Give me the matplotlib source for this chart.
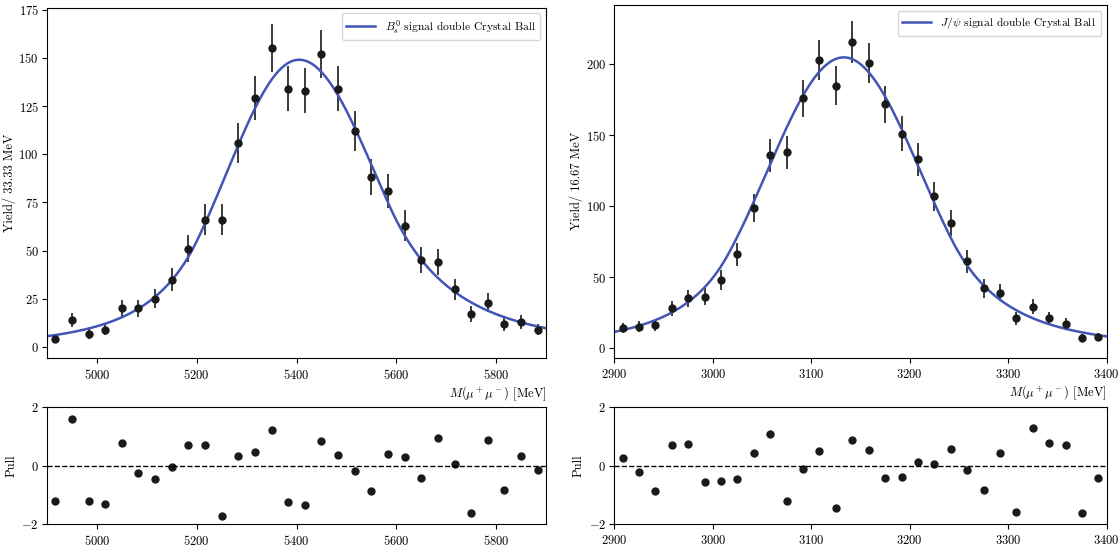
import matplotlib
matplotlib.use("Agg")
import matplotlib.pyplot as plt
import numpy as np

plt.rcParams["font.family"] = "serif"
plt.rcParams["font.serif"] = ["cmr10", "DejaVu Serif"]
plt.rcParams["mathtext.fontset"] = "cm"
plt.rcParams["axes.formatter.use_mathtext"] = True
plt.rcParams["font.size"] = 9
plt.rcParams["ytick.major.pad"] = 2.5

# B_s^0 panel
bs_centers = 4900 + 100 / 3 * (np.arange(30) + 0.5)
bs_counts = [4, 14, 7, 9, 20, 20, 25, 35, 51, 66, 66, 106, 129, 155, 134,
             133, 152, 134, 112, 88, 81, 63, 45, 44, 30, 17, 23, 12, 13, 9]
bs_pulls = [-1.2, 1.6, -1.2, -1.3, 0.8, -0.25, -0.45, -0.02, 0.7, 0.7,
            -1.7, 0.35, 0.48, 1.22, -1.25, -1.32, 0.85, 0.38, -0.18, -0.85,
            0.42, 0.3, -0.42, 0.97, 0.05, -1.6, 0.9, -0.82, 0.33, -0.15]
bs_fit = dict(mu=5405, sL=145, sR=152, aL=1.4, nL=5.0, aR=1.2, nR=5.0, norm=149)

# J/psi panel
jp_centers = 2900 + 50 / 3 * (np.arange(30) + 0.5)
jp_counts = [14, 15, 16, 28, 35, 36, 48, 66, 99, 136, 138, 176, 203, 185, 216,
             201, 172, 151, 133, 107, 88, 61, 42, 39, 21, 29, 21, 17, 7, 8]
jp_pulls = [0.27, -0.2, -0.85, 0.72, 0.75, -0.55, -0.53, -0.43, 0.43, 1.1,
            -1.2, -0.1, 0.52, -1.45, 0.87, 0.53, -0.4, -0.38, 0.15, 0.07,
            0.58, -0.15, -0.82, 0.45, -1.57, 1.28, 0.77, 0.73, -1.62, -0.4]
jp_fit = dict(mu=3133, sL=78, sR=78, aL=1.5, nL=4.0, aR=1.4, nR=5.0, norm=205)

blue = "#4254b5"


def dcb(x, mu, sL, sR, aL, nL, aR, nR, norm):
    t = np.where(x < mu, (x - mu) / sL, (x - mu) / sR)
    y = np.exp(-0.5 * t ** 2)
    AL = (nL / aL) ** nL * np.exp(-0.5 * aL ** 2)
    BL = nL / aL - aL
    AR = (nR / aR) ** nR * np.exp(-0.5 * aR ** 2)
    BR = nR / aR - aR
    left = t < -aL
    right = t > aR
    y[left] = AL * (BL - t[left]) ** (-nL)
    y[right] = AR * (BR + t[right]) ** (-nR)
    return norm * y


fig = plt.figure(figsize=(11.19, 5.48), dpi=100)

panels = [
    (0.042, 0.446, 0.639, bs_centers, bs_counts, bs_pulls, bs_fit,
     (4900, 5900), (-5.6, 176), [5000, 5200, 5400, 5600, 5800],
     "Yield/ 33.33 MeV", r"$B_s^0$ signal double Crystal Ball"),
    (0.549, 0.44, 0.644, jp_centers, jp_counts, jp_pulls, jp_fit,
     (2900, 3400), (-7, 242), [2900, 3000, 3100, 3200, 3300, 3400],
     "Yield/ 16.67 MeV", r"$J/\psi$ signal double Crystal Ball"),
]

for left, w, h, xc, counts, pulls, fit, xlim, ylim, xt, ylab, leg in panels:
    ax = fig.add_axes([left, 0.347, w, h])
    counts = np.array(counts)
    ax.errorbar(xc, counts, yerr=np.sqrt(counts), fmt="o", color="#1a1a1a",
                ms=5, elinewidth=1.2, capsize=0)
    xs = np.linspace(xlim[0], xlim[1], 500)
    ax.plot(xs, dcb(xs, **fit), color=blue, lw=1.8, label=leg)
    ax.set_xlim(*xlim)
    ax.set_ylim(*ylim)
    ax.set_xticks(xt)
    ax.set_ylabel(ylab, labelpad=2)
    ax.set_xlabel(r"$M(\mu^+\mu^-)$ [MeV]", loc="right", labelpad=2)
    ax.legend(loc="upper right", fontsize=8.3, handlelength=2.5)

    axp = fig.add_axes([left, 0.043, w, 0.2135])
    axp.plot(xc, pulls, "o", color="#1a1a1a", ms=5)
    axp.axhline(0, color="black", ls="--", lw=1)
    axp.set_xlim(*xlim)
    axp.set_ylim(-2, 2)
    axp.set_yticks([-2, 0, 2])
    axp.set_xticks(xt)
    axp.set_ylabel("Pull", labelpad=3)

fig.savefig("out.png", dpi=100)
